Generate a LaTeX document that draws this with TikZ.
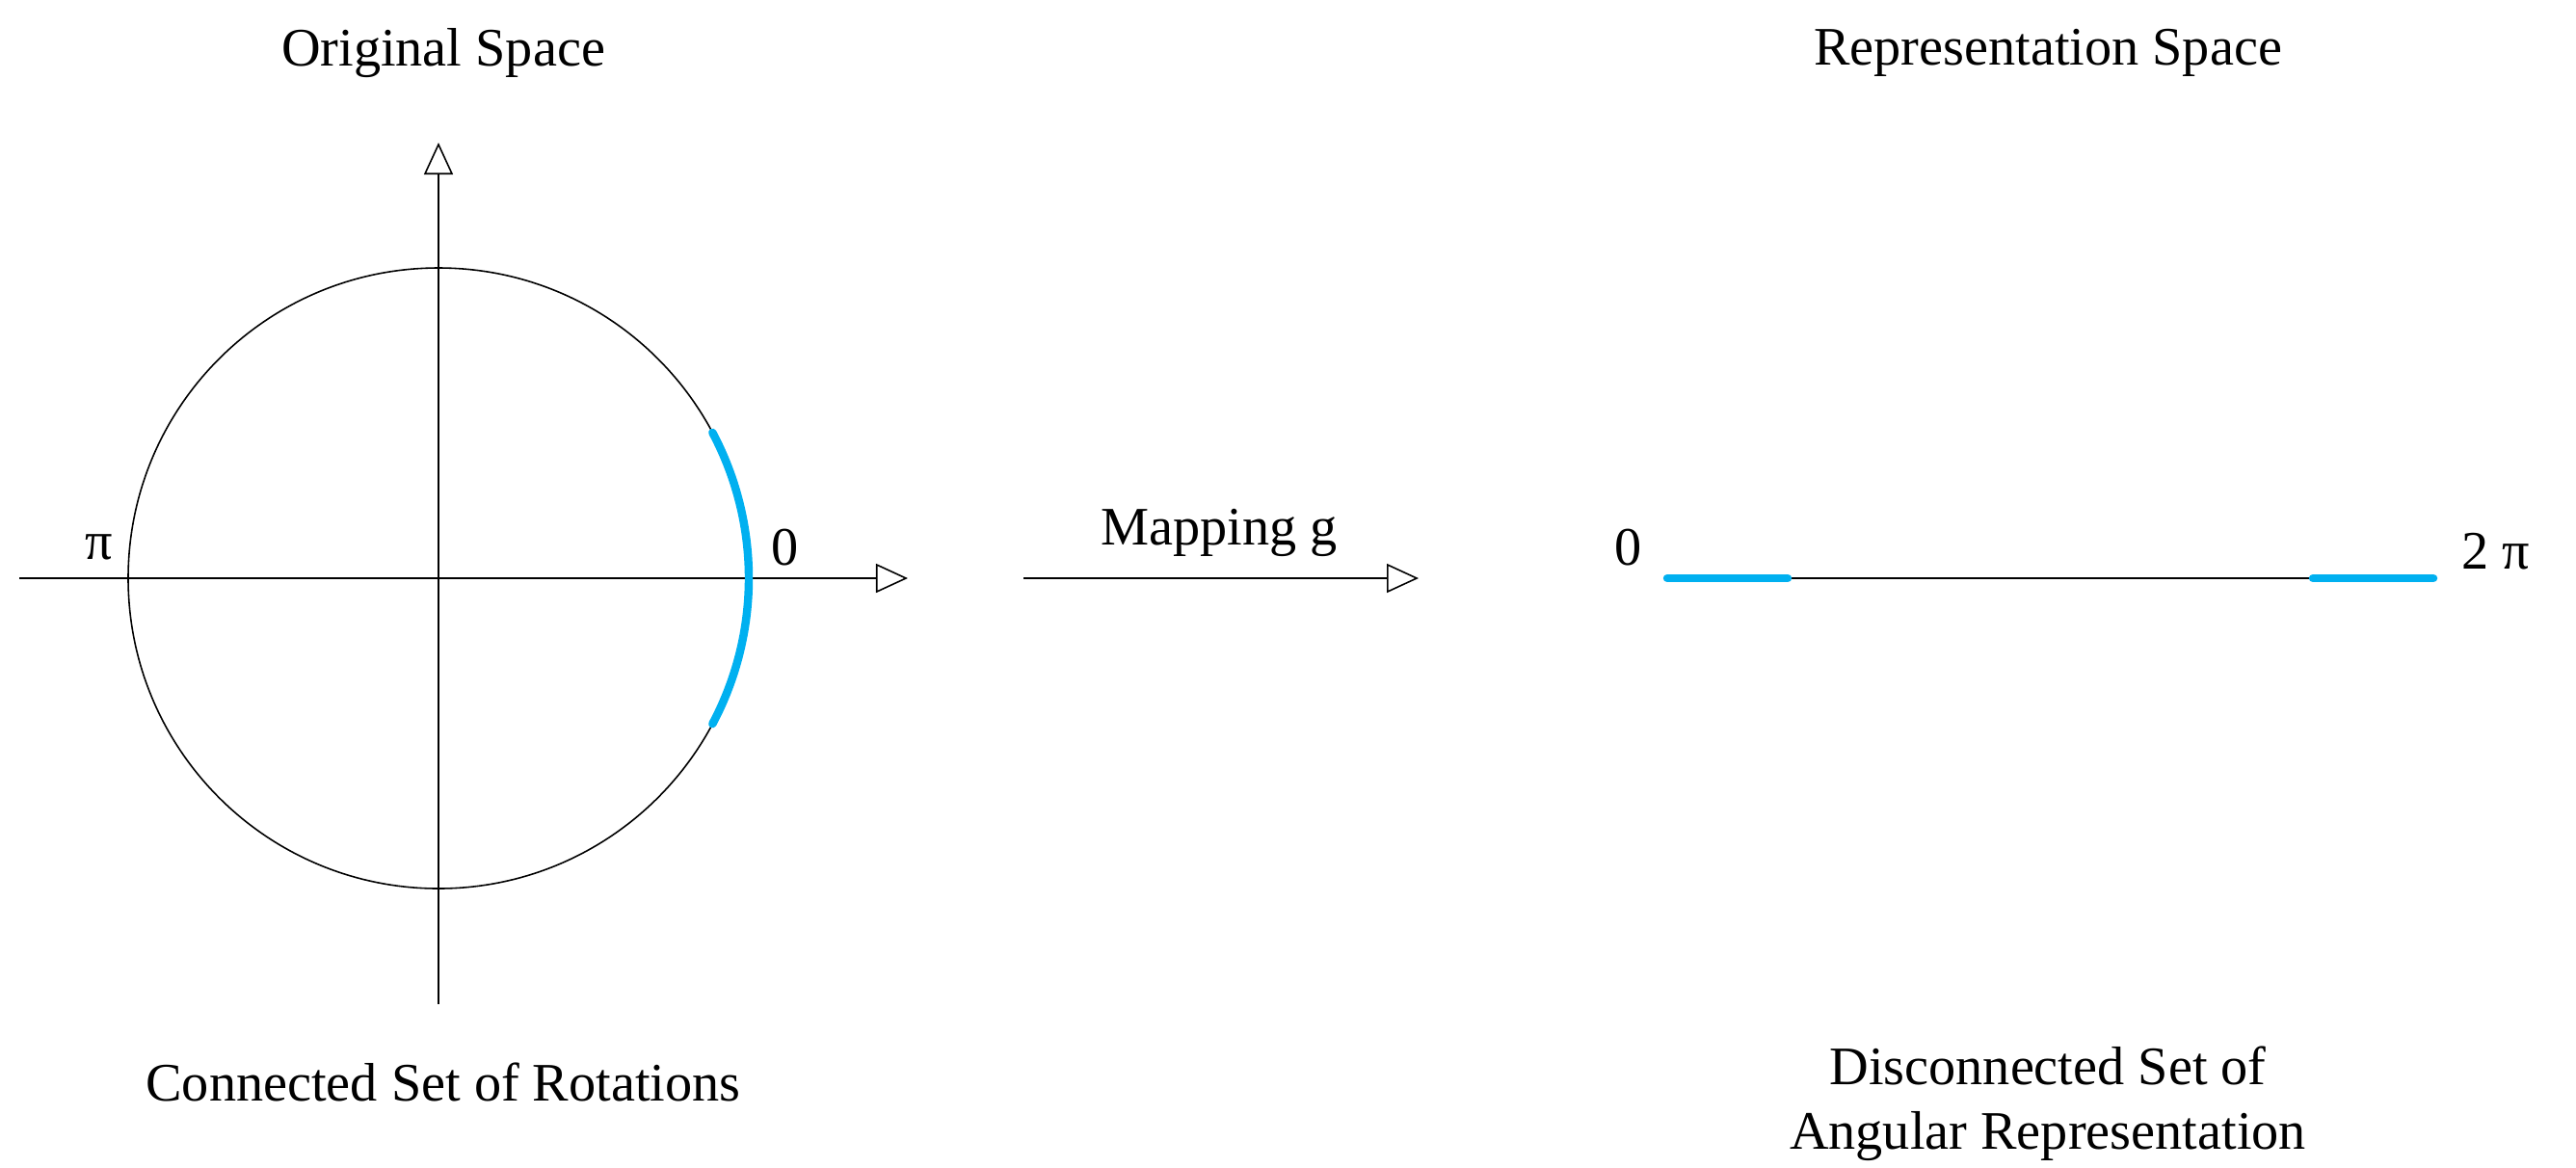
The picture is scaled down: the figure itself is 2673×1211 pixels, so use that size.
\documentclass[tikz,border=0pt]{standalone}
\usepackage{fontspec}
\setmainfont{Liberation Serif}
\usetikzlibrary{arrows.meta}
\begin{document}
\begin{tikzpicture}[x=0.01cm,y=-0.01cm,
  ax/.style={line width=0.45pt,-{Triangle[open,length=0.33cm,width=0.3cm]}},
  lbl/.style={font=\fontsize{16}{19}\selectfont,inner sep=0pt,align=center}]
\useasboundingbox (0,0) rectangle (2673,1211);
\definecolor{bl}{HTML}{00B0F0}
\tikzset{blue/.style={line width=2.4pt,color=bl,line cap=round}}
% left
\coordinate (c) at (455,600);
\draw[line width=0.45pt] (c) circle[radius=322];
\coordinate (xs) at (20,600); \coordinate (xe) at (942,600);
\coordinate (ys) at (455,1042); \coordinate (ye) at (455,148);
\draw[ax] (xs) -- (xe);
\draw[ax] (ys) -- (ye);
\draw[blue] ([shift={(28:322)}]c) arc[start angle=28,end angle=-28,radius=322];
\node[lbl] (t1) at (460,55) {Original Space};
\node[lbl] (pi) at (103,568) {π};
\node[lbl] (z1) at (815,568) {0};
\node[lbl] (b1) at (460,1123) {Connected Set of Rotations};
% mapping
\coordinate (ms) at (1062,600); \coordinate (me) at (1472,600);
\draw[ax] (ms) -- (me);
\node[lbl] (mg) at (1265,553) {Mapping g};
% right
\coordinate (ls) at (1730,600); \coordinate (le) at (2525,600);
\coordinate (l1) at (1855,600); \coordinate (l2) at (2400,600);
\draw[line width=0.45pt] (ls) -- (le);
\draw[blue] (ls) -- (l1);
\draw[blue] (l2) -- (le);
\node[lbl] (z2) at (1690,568) {0};
\node[lbl] (tp) at (2590,572) {2 π};
\node[lbl] (t2) at (2125,55) {Representation Space};
\node[lbl] (b2) at (2125,1145) {Disconnected Set of\\Angular Representation};
\end{tikzpicture}
\end{document}
